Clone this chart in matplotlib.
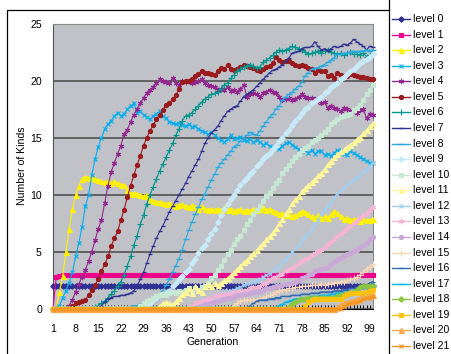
import matplotlib.pyplot as plt
import numpy as np

plt.rcParams["font.family"] = ["Liberation Sans", "DejaVu Sans"]

generations = np.arange(1, 101)

level_0 = [
    2, 2, 2, 2, 2, 2, 2, 2, 2, 2, 2, 2, 2, 2, 2, 2, 2, 2, 2, 2,
    2, 2, 2, 2, 2, 2, 2, 2, 2, 2, 2, 2, 2, 2, 2, 2, 2, 2, 2, 2,
    2, 2, 2, 2, 2, 2, 2, 2, 2, 2, 2, 2, 2, 2, 2, 2, 2, 2, 2, 2,
    2, 2, 2, 2, 2, 2, 2, 2, 2, 2, 2, 2, 2, 2, 2, 2, 2, 2, 2, 2,
    2, 2, 2, 2, 2, 2, 2, 2, 2, 2, 2, 2, 2, 2, 2, 2, 2, 2, 2, 2,
]
level_1 = [
    0, 2.8, 2.9, 3, 3, 3, 3, 3, 3, 3, 3, 3, 3, 3, 3, 3, 3, 3, 3, 3,
    3, 3, 3, 3, 3, 3, 3, 3, 3, 3, 3, 3, 3, 3, 3, 3, 3, 3, 3, 3,
    3, 3, 3, 3, 3, 3, 3, 3, 3, 3, 3, 3, 3, 3, 3, 3, 3, 3, 3, 3,
    3, 3, 3, 3, 3, 3, 3, 3, 3, 3, 3, 3, 3, 3, 3, 3, 3, 3, 3, 3,
    3, 3, 3, 3, 3, 3, 3, 3, 3, 3, 3, 3, 3, 3, 3, 3, 3, 3, 3, 3,
]
level_2 = [
    0, 0, 1.5, 2.9, 5.0, 7.0, 8.8, 10.0, 10.8, 11.4, 11.6, 11.5, 11.6, 11.4, 11.3, 11.2, 11.1, 11.2, 11.0, 11.2,
    11.0, 10.9, 10.9, 10.4, 10.1, 10.2, 10.1, 10.0, 9.9, 10.0, 9.6, 9.5, 9.4, 9.4, 9.3, 9.2, 9.3, 9.1, 9.0, 9.1,
    9.2, 9.0, 8.9, 9.1, 8.9, 8.8, 9.0, 8.8, 8.7, 8.8, 8.7, 8.8, 8.7, 8.9, 8.7, 8.8, 8.6, 8.7, 8.8, 8.6,
    8.7, 8.6, 8.8, 8.7, 8.8, 8.9, 8.7, 8.8, 8.6, 8.5, 8.3, 8.4, 8.2, 8.3, 8.1, 8.2, 8.4, 8.6, 8.5, 8.3,
    8.1, 8.0, 8.2, 8.0, 8.1, 8.0, 8.3, 8.6, 8.4, 8.1, 7.9, 8.0, 7.8, 7.9, 7.8, 7.7, 7.9, 7.8, 7.8, 7.9,
]
level_3 = [
    0, 0, 0.3, 1.0, 1.6, 2.3, 3.2, 4.6, 5.8, 7.2, 9.0, 10.0, 11.7, 13.1, 14.2, 15.0, 15.8, 16.2, 16.5, 16.9,
    17.2, 16.9, 17.1, 17.5, 17.8, 18.0, 17.2, 17.3, 17.0, 16.8, 16.6, 16.9, 17.1, 17.3, 16.9, 16.7, 16.4, 16.3, 16.2, 16.3,
    16.1, 16.0, 16.2, 15.9, 16.0, 15.8, 15.6, 15.5, 15.3, 15.5, 15.2, 15.0, 14.8, 14.6, 14.9, 15.2, 14.9, 15.0, 15.1, 14.8,
    14.7, 14.9, 14.6, 14.8, 14.6, 14.4, 14.5, 14.3, 14.1, 14.2, 14.0, 14.3, 14.5, 14.6, 14.4, 14.2, 14.0, 13.8, 13.9, 13.7,
    13.9, 13.6, 13.8, 13.8, 13.5, 13.6, 13.4, 13.7, 13.9, 13.9, 13.6, 13.5, 13.8, 13.7, 13.5, 13.3, 13.1, 13.0, 12.8, 12.8,
]
level_4 = [
    0, 0, 0, 0, 0, 0.3, 0.8, 1.5, 2.2, 2.8, 3.4, 4.2, 5.0, 6.0, 7.0, 7.8, 9.3, 10.8, 12.0, 12.8,
    13.6, 14.3, 15.3, 15.7, 16.4, 17.0, 17.5, 18.0, 18.5, 18.9, 19.2, 19.4, 19.8, 20.1, 20.0, 19.9, 19.8, 20.2, 19.8, 19.6,
    20.0, 19.9, 20.0, 19.8, 19.9, 20.0, 20.1, 19.8, 19.6, 19.5, 19.4, 19.2, 19.3, 19.2, 19.4, 19.1, 19.2, 19.0, 19.3, 19.6,
    18.6, 18.8, 18.9, 18.8, 18.6, 18.9, 19.0, 19.2, 19.0, 18.9, 18.6, 18.3, 18.4, 18.5, 18.3, 18.4, 18.6, 18.8, 18.6, 18.5,
    18.5, 18.4, 18.2, 18.0, 18.1, 17.6, 17.8, 17.6, 17.5, 17.3, 17.6, 17.5, 17.3, 17.4, 17.2, 17.4, 17.5, 16.7, 17.1, 17.0,
]
level_5 = [
    0, 0, 0, 0, 0, 0, 0.3, 0.5, 0.6, 0.7, 0.8, 1.2, 1.7, 2.1, 2.6, 3.3, 3.9, 4.6, 5.5, 6.2,
    6.8, 7.8, 8.7, 9.8, 10.8, 11.7, 12.6, 13.4, 14.3, 15.0, 15.6, 16.1, 16.6, 17.0, 17.4, 17.9, 18.0, 18.4, 18.7, 19.3,
    19.9, 20.0, 20.0, 20.1, 20.4, 20.6, 20.8, 20.7, 20.7, 20.6, 20.5, 20.8, 21.1, 21.0, 21.4, 21.0, 20.9, 21.0, 21.2, 21.4,
    21.3, 21.2, 21.1, 20.9, 20.8, 21.0, 21.2, 21.3, 21.5, 22.1, 21.8, 21.6, 21.7, 21.7, 21.5, 21.4, 21.3, 21.4, 21.3, 21.1,
    21.0, 20.7, 20.9, 20.8, 20.8, 20.4, 20.5, 20.2, 20.7, 20.5, 20.4, 20.4, 20.6, 20.5, 20.4, 20.3, 20.3, 20.2, 20.1, 20.1,
]
level_6 = [
    0, 0, 0, 0, 0, 0, 0, 0, 0, 0, 0, 0, 0, 0.2, 0.3, 0.5, 0.7, 1.0, 1.3, 1.6,
    2.0, 2.4, 3.0, 3.8, 4.6, 5.6, 6.4, 7.4, 8.2, 9.2, 10.0, 10.7, 11.4, 12.1, 12.7, 13.3, 13.9, 14.5, 15.2, 15.8,
    16.5, 16.9, 17.0, 17.2, 17.5, 17.8, 18.1, 18.4, 18.6, 18.8, 18.9, 19.0, 19.3, 19.6, 19.8, 20.2, 20.5, 20.8, 21.0, 21.2,
    21.3, 21.4, 21.3, 21.1, 21.2, 21.6, 21.8, 22.0, 22.2, 22.5, 22.7, 22.6, 22.7, 22.8, 23.0, 22.9, 22.8, 22.7, 22.5, 22.3,
    22.4, 22.5, 22.6, 22.4, 22.6, 22.7, 22.5, 22.4, 22.3, 22.4, 22.2, 22.4, 22.5, 22.3, 22.3, 22.2, 22.4, 22.1, 22.2, 22.3,
]
level_7 = [
    0, 0, 0, 0, 0, 0, 0, 0, 0, 0, 0, 0, 0, 0, 0, 0.3, 0.6, 0.9, 1.0, 1.1,
    1.1, 1.2, 1.2, 1.3, 1.4, 1.6, 2.0, 2.6, 3.2, 4.0, 4.8, 5.5, 6.2, 6.8, 7.3, 7.9, 8.5, 9.0, 9.5, 10.0,
    10.5, 11.0, 11.6, 12.1, 12.6, 13.1, 13.8, 14.5, 15.0, 15.4, 15.7, 16.0, 16.5, 16.9, 17.3, 17.5, 17.7, 17.8, 18.2, 18.6,
    18.8, 19.0, 19.2, 19.5, 19.8, 20.1, 20.4, 20.7, 20.9, 21.0, 21.2, 21.4, 21.7, 22.0, 22.4, 22.5, 22.6, 22.8, 22.9, 22.9,
    23.0, 23.4, 23.0, 22.7, 22.8, 22.6, 22.8, 23.0, 22.9, 23.0, 23.2, 23.1, 23.3, 23.6, 23.4, 23.2, 23.0, 22.7, 23.0, 22.9,
]
level_8 = [
    0, 0, 0, 0, 0, 0, 0, 0, 0, 0, 0, 0, 0, 0, 0, 0, 0, 0, 0, 0,
    0, 0, 0, 0, 0.2, 0.3, 0.3, 0.4, 0.4, 0.5, 0.6, 0.7, 0.9, 1.2, 1.6, 2.1, 2.6, 3.2, 3.8, 4.4,
    5.2, 6.1, 6.9, 7.6, 8.3, 8.9, 9.6, 10.1, 10.7, 11.3, 11.8, 12.4, 12.8, 13.1, 13.5, 13.8, 14.2, 14.4, 14.7, 15.0,
    15.2, 15.5, 15.3, 15.2, 15.6, 16.0, 16.4, 16.8, 17.1, 17.5, 17.8, 18.3, 18.6, 18.8, 19.0, 19.3, 19.5, 19.9, 20.4, 20.7,
    21.0, 21.1, 21.1, 21.3, 21.4, 21.6, 21.8, 22.0, 22.3, 22.3, 22.4, 22.4, 22.5, 22.6, 22.5, 22.6, 22.6, 22.7, 22.6, 22.7,
]
level_9 = [
    0, 0, 0, 0, 0, 0, 0, 0, 0, 0, 0, 0, 0, 0, 0, 0, 0, 0, 0, 0,
    0, 0, 0, 0, 0, 0, 0, 0, 0, 0.3, 0.5, 0.8, 1.0, 1.2, 1.3, 1.4, 1.6, 2.0, 2.3, 2.6,
    2.9, 3.2, 3.5, 4.0, 4.4, 4.9, 5.3, 5.6, 6.1, 6.6, 7.0, 7.6, 8.2, 8.8, 9.2, 9.6, 10.0, 10.4, 10.9, 11.2,
    11.5, 11.8, 12.1, 12.5, 12.8, 13.1, 13.4, 13.7, 14.0, 14.3, 14.7, 15.0, 15.4, 15.7, 16.1, 16.5, 16.8, 17.2, 17.5, 17.7,
    18.0, 18.2, 18.4, 18.6, 18.9, 19.1, 19.4, 19.6, 19.8, 20.1, 20.3, 20.6, 20.8, 21.0, 21.3, 21.5, 21.7, 21.9, 22.1, 22.3,
]
level_10 = [
    0, 0, 0, 0, 0, 0, 0, 0, 0, 0, 0, 0, 0, 0, 0, 0, 0, 0, 0, 0,
    0, 0, 0, 0, 0, 0, 0, 0.3, 0.5, 0.7, 0.8, 1.0, 1.1, 1.2, 1.3, 1.2, 1.4, 1.5, 1.4, 1.6,
    1.5, 1.7, 1.8, 1.6, 1.8, 1.7, 1.9, 2.0, 2.3, 2.7, 3.0, 3.4, 3.8, 4.3, 4.8, 5.2, 5.7, 6.1, 6.4, 6.9,
    7.4, 7.8, 8.3, 8.7, 9.0, 9.5, 9.9, 10.2, 10.6, 11.0, 11.3, 11.9, 12.3, 12.6, 13.0, 13.3, 13.6, 13.9, 14.1, 14.3,
    14.6, 14.8, 15.0, 15.2, 15.5, 15.8, 16.2, 16.4, 16.6, 16.8, 16.9, 17.0, 17.1, 17.4, 17.6, 17.9, 18.3, 18.8, 19.2, 19.6,
]
level_11 = [
    0, 0, 0, 0, 0, 0, 0, 0, 0, 0, 0, 0, 0, 0, 0, 0, 0, 0, 0, 0,
    0, 0, 0, 0, 0, 0, 0, 0, 0, 0, 0, 0, 0, 0.3, 0.5, 0.6, 0.5, 0.4, 0.7, 1.0,
    1.3, 1.5, 1.8, 1.4, 2.0, 1.7, 1.5, 2.0, 2.2, 2.0, 2.3, 2.1, 2.3, 2.5, 2.7, 3.0, 3.2, 3.5, 3.8, 4.1,
    4.3, 4.6, 4.9, 5.2, 5.5, 5.8, 6.1, 6.4, 6.7, 7.1, 7.5, 7.9, 8.4, 8.8, 9.3, 9.6, 9.9, 10.3, 10.6, 10.9,
    11.1, 11.4, 11.7, 11.9, 12.3, 12.7, 13.0, 13.3, 13.6, 13.8, 14.0, 14.2, 14.4, 14.6, 14.9, 15.1, 15.4, 15.7, 16.0, 16.3,
]
level_12 = [
    0, 0, 0, 0, 0, 0, 0, 0, 0, 0, 0, 0, 0, 0, 0, 0, 0, 0, 0, 0,
    0, 0, 0, 0, 0, 0, 0, 0, 0, 0, 0, 0, 0, 0, 0, 0, 0, 0, 0, 0,
    0, 0, 0.2, 0.3, 0.4, 0.5, 0.7, 0.8, 0.9, 1.0, 1.1, 1.2, 1.3, 1.4, 1.5, 1.6, 1.7, 1.8, 1.9, 2.1,
    2.2, 2.3, 2.4, 2.5, 2.6, 2.8, 3.0, 3.1, 3.3, 3.5, 3.8, 4.1, 4.4, 4.7, 5.0, 5.3, 5.6, 6.0, 6.3, 6.6,
    7.0, 7.4, 7.8, 8.3, 8.7, 9.0, 9.4, 9.8, 10.1, 10.4, 10.6, 10.9, 11.1, 11.3, 11.5, 11.7, 12.0, 12.2, 12.5, 12.8,
]
level_13 = [
    0, 0, 0, 0, 0, 0, 0, 0, 0, 0, 0, 0, 0, 0, 0, 0, 0, 0, 0, 0,
    0, 0, 0, 0, 0, 0, 0, 0, 0, 0, 0, 0, 0, 0, 0, 0, 0, 0, 0, 0,
    0, 0, 0.2, 0.3, 0.5, 0.6, 0.7, 0.8, 0.9, 1.0, 1.1, 1.2, 1.2, 1.3, 1.3, 1.4, 1.5, 1.5, 1.6, 1.6,
    1.7, 1.8, 1.9, 1.9, 2.0, 2.2, 2.3, 2.5, 2.7, 2.8, 3.0, 3.1, 3.3, 3.5, 3.6, 3.8, 4.0, 4.2, 4.4, 4.5,
    4.7, 4.9, 5.1, 5.2, 5.4, 5.7, 5.9, 6.1, 6.4, 6.6, 6.8, 7.1, 7.3, 7.5, 7.7, 8.0, 8.2, 8.4, 8.7, 8.9,
]
level_14 = [
    0, 0, 0, 0, 0, 0, 0, 0, 0, 0, 0, 0, 0, 0, 0, 0, 0, 0, 0, 0,
    0, 0, 0, 0, 0, 0, 0, 0, 0, 0, 0, 0, 0, 0, 0, 0, 0, 0, 0, 0,
    0, 0, 0, 0, 0, 0.2, 0.3, 0.4, 0.4, 0.5, 0.6, 0.7, 0.8, 0.9, 1.0, 1.0, 1.1, 1.2, 1.2, 1.3,
    1.3, 1.4, 1.5, 1.5, 1.6, 1.7, 1.8, 1.8, 1.9, 2.0, 2.0, 2.1, 2.2, 2.2, 2.3, 2.4, 2.5, 2.7, 2.8, 3.0,
    3.1, 3.3, 3.4, 3.5, 3.6, 3.7, 3.9, 4.1, 4.3, 4.5, 4.6, 4.8, 4.9, 5.1, 5.2, 5.4, 5.6, 5.8, 6.1, 6.3,
]
level_15 = [
    0, 0, 0, 0, 0, 0, 0, 0, 0, 0, 0, 0, 0, 0, 0, 0, 0, 0, 0, 0,
    0, 0, 0, 0, 0, 0, 0, 0, 0, 0, 0, 0, 0, 0, 0, 0, 0, 0, 0, 0,
    0, 0, 0, 0, 0, 0, 0, 0, 0, 0, 0, 0, 0, 0, 0, 0, 0.3, 0.5, 0.7, 0.8,
    0.8, 0.8, 0.8, 0.8, 0.9, 1.0, 1.1, 1.2, 1.3, 1.5, 1.6, 1.7, 1.7, 1.8, 1.8, 1.9, 1.9, 2.0, 2.0, 2.0,
    2.1, 2.1, 2.1, 2.2, 2.1, 2.2, 2.2, 2.3, 2.3, 2.4, 2.4, 2.5, 2.6, 2.7, 2.8, 3.0, 3.2, 3.5, 3.7, 3.9,
]
level_16 = [
    0, 0, 0, 0, 0, 0, 0, 0, 0, 0, 0, 0, 0, 0, 0, 0, 0, 0, 0, 0,
    0, 0, 0, 0, 0, 0, 0, 0, 0, 0, 0, 0, 0, 0, 0, 0, 0, 0, 0, 0,
    0, 0, 0, 0, 0, 0, 0, 0, 0, 0, 0, 0, 0, 0, 0, 0, 0, 0, 0, 0,
    0, 0.3, 0.5, 0.7, 0.8, 0.8, 0.8, 0.9, 0.9, 1.0, 1.0, 1.1, 1.1, 1.1, 1.2, 1.2, 1.2, 1.3, 1.3, 1.3,
    1.4, 1.4, 1.4, 1.5, 1.5, 1.5, 1.5, 1.6, 1.6, 1.6, 1.7, 1.7, 1.8, 1.8, 1.9, 2.0, 2.0, 2.1, 2.3, 2.4,
]
level_17 = [
    0, 0, 0, 0, 0, 0, 0, 0, 0, 0, 0, 0, 0, 0, 0, 0, 0, 0, 0, 0,
    0, 0, 0, 0, 0, 0, 0, 0, 0, 0, 0, 0, 0, 0, 0, 0, 0, 0, 0, 0,
    0, 0, 0, 0, 0, 0, 0, 0, 0, 0, 0, 0, 0, 0, 0, 0, 0, 0, 0, 0,
    0, 0, 0, 0, 0, 0, 0, 0, 0, 0.2, 0.3, 0.4, 0.6, 0.7, 0.8, 0.9, 0.9, 1.0, 1.0, 1.0,
    1.1, 1.1, 1.1, 1.2, 1.2, 1.2, 1.3, 1.3, 1.4, 1.4, 1.4, 1.5, 1.5, 1.6, 1.7, 1.8, 1.8, 1.9, 2.0, 2.1,
]
level_18 = [
    0, 0, 0, 0, 0, 0, 0, 0, 0, 0, 0, 0, 0, 0, 0, 0, 0, 0, 0, 0,
    0, 0, 0, 0, 0, 0, 0, 0, 0, 0, 0, 0, 0, 0, 0, 0, 0, 0, 0, 0,
    0, 0, 0, 0, 0, 0, 0, 0, 0, 0, 0, 0, 0, 0, 0, 0, 0, 0, 0, 0,
    0, 0, 0, 0, 0, 0, 0, 0, 0, 0, 0, 0, 0, 0.2, 0.4, 0.6, 0.8, 0.9, 0.9, 1.0,
    1.0, 1.0, 1.0, 1.0, 1.0, 1.0, 1.0, 1.0, 1.1, 1.2, 1.2, 1.3, 1.4, 1.5, 1.7, 1.9, 2.0, 2.0, 2.0, 2.0,
]
level_19 = [
    0, 0, 0, 0, 0, 0, 0, 0, 0, 0, 0, 0, 0, 0, 0, 0, 0, 0, 0, 0,
    0, 0, 0, 0, 0, 0, 0, 0, 0, 0, 0, 0, 0, 0, 0, 0, 0, 0, 0, 0,
    0, 0, 0, 0, 0, 0, 0, 0, 0, 0, 0, 0, 0, 0, 0, 0, 0, 0, 0, 0,
    0, 0, 0, 0, 0, 0, 0, 0, 0, 0, 0, 0, 0, 0, 0, 0, 0, 0, 0.3, 0.6,
    0.8, 0.9, 0.9, 0.9, 0.9, 0.9, 0.9, 0.9, 0.9, 0.9, 1.1, 1.3, 1.4, 1.4, 1.4, 1.4, 1.4, 1.5, 1.6, 1.7,
]
level_20 = [
    0, 0, 0, 0, 0, 0, 0, 0, 0, 0, 0, 0, 0, 0, 0, 0, 0, 0, 0, 0,
    0, 0, 0, 0, 0, 0, 0, 0, 0, 0, 0, 0, 0, 0, 0, 0, 0, 0, 0, 0,
    0, 0, 0, 0, 0, 0, 0, 0, 0, 0, 0, 0, 0, 0, 0, 0, 0, 0, 0, 0,
    0, 0, 0, 0, 0, 0, 0, 0, 0, 0, 0, 0, 0, 0, 0, 0, 0, 0, 0, 0,
    0, 0, 0, 0, 0, 0, 0, 0, 0.2, 0.4, 0.5, 0.6, 0.7, 0.8, 0.9, 1.0, 1.1, 1.1, 1.2, 1.2,
]
level_21 = [
    0, 0, 0, 0, 0, 0, 0, 0, 0, 0, 0, 0, 0, 0, 0, 0, 0, 0, 0, 0,
    0, 0, 0, 0, 0, 0, 0, 0, 0, 0, 0, 0, 0, 0, 0, 0, 0, 0, 0, 0,
    0, 0, 0, 0, 0, 0, 0, 0, 0, 0, 0, 0, 0, 0, 0, 0, 0, 0, 0, 0,
    0, 0, 0, 0, 0, 0, 0, 0, 0, 0, 0, 0, 0, 0, 0, 0, 0, 0, 0, 0,
    0, 0, 0, 0, 0, 0, 0, 0, 0, 0, 0.2, 0.4, 0.5, 0.5, 0.6, 0.7, 0.9, 1.0, 1.0, 1.1,
]

levels = [
    level_0, level_1, level_2, level_3, level_4, level_5, level_6, level_7,
    level_8, level_9, level_10, level_11, level_12, level_13, level_14,
    level_15, level_16, level_17, level_18, level_19, level_20, level_21,
]
labels = ["level %d" % i for i in range(len(levels))]

colors = [
    "#2e3192", "#ec008c", "#fff200", "#00aeef", "#92278f", "#991b1e",
    "#00958f", "#2e3192", "#27aae1", "#c8ebfa", "#c7e9d3", "#fff799",
    "#a3cff2", "#f7b3d3", "#c9a8d8", "#fbd7b5", "#2e6db4", "#00b7eb",
    "#8dc63f", "#ffc20e", "#f7a84a", "#f7941d",
]
# marker cycle: diamond, square, triangle, x, star, circle, plus, short bar, long bar
marker_cycle = ["D", "s", "^", "x", (6, 2, 0), "o", "+", "_", "_"]
size_cycle = [2.8, 3.0, 3.6, 3.4, 3.8, 3.0, 3.8, 3.0, 4.5]

fig = plt.figure(figsize=(4.52, 3.54), dpi=100)
W, H = 452, 354
ax = fig.add_axes([53 / W, 45 / H, 320 / W, 285.5 / H])
ax.set_facecolor("#c1c2c8")

for i, values in enumerate(levels):
    m = marker_cycle[i % 9]
    ax.plot(generations, values, color=colors[i], lw=0.8, marker=m,
            ms=size_cycle[i % 9], mfc=colors[i], mec=colors[i],
            mew=1.0 if m == "_" else 0.8, clip_on=False, zorder=3 + i * 0.01)

ax.set_xlim(1, 100)
ax.set_ylim(0, 25)
ax.set_yticks(range(0, 26, 5))
ax.set_xticks(range(1, 100, 7))
ax.set_xticks(range(1, 101), minor=True)
ax.yaxis.grid(True, color="#5a5a5a", lw=1.3)
ax.set_axisbelow(True)
ax.tick_params(axis="y", length=0, pad=8, labelsize=7.6)
ax.tick_params(axis="x", which="major", direction="in", length=3, width=0.7,
               pad=11, labelsize=7.6)
ax.tick_params(axis="x", which="minor", direction="in", length=3, width=0.7)
for side in ["top", "right"]:
    ax.spines[side].set_color("#8a8a8a")
ax.spines["left"].set_color("#555555")
ax.spines["bottom"].set_color("black")

# chart frame, axis titles and legend in pixel coordinates
ov = fig.add_axes([0, 0, 1, 1], facecolor="none")
ov.set_xlim(0, W)
ov.set_ylim(H, 0)
ov.axis("off")
ov.plot([7, 7, 389.5], [H + 5, 9.5, 9.5], color="black", lw=0.9)
ov.plot([389.5, 389.5], [0, H], color="black", lw=0.9)
ov.text(213, 342, "Generation", ha="center", va="center", fontsize=7.6)
ov.text(22, 166, "Number of Kinds", ha="center", va="center", rotation=90,
        fontsize=7.6)

for i, lab in enumerate(labels):
    y = 19 + i * 15.57
    m = marker_cycle[i % 9]
    ov.plot([392, 410], [y, y], color=colors[i], lw=1.0)
    ov.plot([401], [y], color=colors[i], marker=m, ms=size_cycle[i % 9],
            mfc=colors[i], mec=colors[i], mew=1.0 if m == "_" else 0.8)
    ov.text(413, y, lab, ha="left", va="center", fontsize=7.6)

fig.savefig("out.png", dpi=100)
